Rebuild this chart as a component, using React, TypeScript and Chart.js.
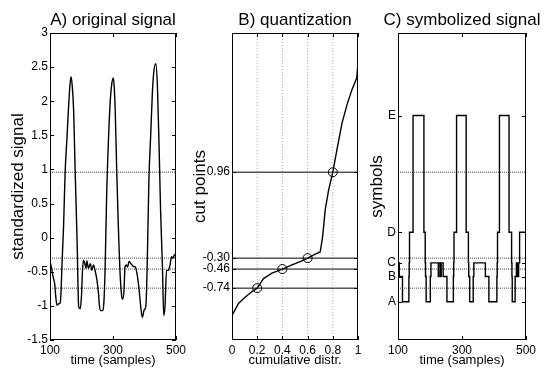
import React, { useEffect, useRef } from 'react';
import { Chart, registerables } from 'chart.js';

Chart.register(...registerables);

// ---------- data ----------
const SIGNAL_T = [100,105,110,115,118,122,127,132,135,138,143,148,154,159,164,167,171,175,180,186,191,196,200,203,206,210,214,217,222,228,233,238,243,249,254,257,261,266,271,275,280,286,291,296,301,304,307,312,317,323,328,331,335,338,342,346,351,357,364,371,377,383,388,393,399,404,407,410,414,420,425,430,436,441,446,451,457,461,465,470,476,481,486,491,495,500];
const SIGNAL_V = [-0.35,-0.45,-0.58,-0.68,-0.85,-0.99,-0.97,-0.96,-0.80,-0.40,0.16,0.95,1.48,1.92,2.27,2.36,2.20,1.87,0.95,-0.04,-1.01,-1.04,-0.85,-0.50,-0.33,-0.37,-0.45,-0.34,-0.45,-0.38,-0.48,-0.40,-0.48,-0.62,-0.82,-1.00,-1.07,-1.07,-0.95,-0.45,0.65,1.48,1.98,2.25,2.34,2.20,1.87,0.95,0.16,-0.57,-0.87,-0.90,-0.77,-0.43,-0.40,-0.43,-0.35,-0.38,-0.42,-0.43,-0.55,-0.77,-1.01,-1.17,-1.06,-1.01,-0.70,-0.08,0.85,1.54,2.12,2.45,2.55,2.22,1.39,0.41,-0.43,-1.14,-1.01,-0.48,-0.48,-0.40,-0.28,-0.30,-0.25,-0.28];

const CUT_POINTS = [-0.74, -0.46, -0.30, 0.96];
const CUT_PROBS = [0.2, 0.4, 0.6, 0.8];

const CDF_P = [0, 0.053, 0.106, 0.159, 0.2, 0.25, 0.317, 0.4, 0.476, 0.556, 0.6, 0.661, 0.70, 0.719, 0.74, 0.767, 0.8, 0.833, 0.873, 0.913, 0.952, 0.99, 1.0];
const CDF_V = [-1.14, -0.96, -0.87, -0.79, -0.74, -0.60, -0.52, -0.46, -0.40, -0.34, -0.30, -0.24, -0.21, 0.01, 0.41, 0.70, 0.96, 1.29, 1.68, 1.95, 2.17, 2.34, 2.56];

const SYMBOLS = ['A', 'B', 'C', 'D', 'E'];
const SYMBOL_LEVELS = [-0.94, -0.57, -0.37, 0.08, 1.79];

const STEP_T = [100,104,114,134,135,136,147,181,185,186,188,201,203,226,228,233,235,241,253,273,274,275,283,313,320,321,324,335,337,373,384,409,410,411,417,447,455,456,457,466,470,472,474,476,477,480,500];
const STEP_SYM = ['C','B','A','B','C','D','E','D','C','B','A','B','C','B','C','B','C','B','A','B','C','D','E','D','C','B','A','B','C','B','A','B','C','D','E','D','C','B','A','B','C','B','C','B','C','D','D'];

const Y_MIN = -1.5;
const Y_MAX = 3;
const Y_TICKS_A = [-1.5, -1, -0.5, 0, 0.5, 1, 1.5, 2, 2.5, 3];
const X_TICKS_TIME = [100, 300, 500];
const X_TICKS_CDF = [0, 0.2, 0.4, 0.6, 0.8, 1];

const TITLES = ['A) original signal', 'B) quantization', 'C) symbolized signal'];
const X_TITLES = ['time (samples)', 'cumulative distr.', 'time (samples)'];
const Y_TITLES = ['standardized signal', 'cut points', 'symbols'];

// ---------- layout ----------
const W = 545;
const H = 371;
const AREA_TOP = 33;
const AREA_BOTTOM = 340;
const X_AXIS_H = 20;
const AREAS = [
  { left: 50, right: 176, yAxisW: 46 },
  { left: 232, right: 358, yAxisW: 40 },
  { left: 398, right: 526, yAxisW: 20 },
];
const Y_TITLE_X = [23, 205, 382];
const TITLE_Y = 25;
const X_TITLE_Y = 364;
const FONT = '"Liberation Sans", Arial, Helvetica, sans-serif';

Chart.defaults.font.family = FONT;
Chart.defaults.color = '#000';

const decor = {
  id: 'decor',
  afterDatasetsDraw(chart: any) {
    const { ctx, chartArea: a } = chart;
    ctx.save();
    ctx.strokeStyle = '#000';
    ctx.lineWidth = 1;
    ctx.strokeRect(a.left + 0.5, a.top + 0.5, a.right - a.left - 1, a.bottom - a.top - 1);
    const tl = 4;
    ctx.beginPath();
    const xs = chart.scales.x;
    for (const t of xs.ticks) {
      const px = Math.round(xs.getPixelForValue(t.value)) + 0.5;
      ctx.moveTo(px, a.bottom);
      ctx.lineTo(px, a.bottom - tl);
      ctx.moveTo(px, a.top);
      ctx.lineTo(px, a.top + tl);
    }
    const ys = chart.scales.y;
    for (const t of ys.ticks) {
      const py = Math.round(ys.getPixelForValue(t.value)) + 0.5;
      ctx.moveTo(a.left, py);
      ctx.lineTo(a.left + tl, py);
      ctx.moveTo(a.right, py);
      ctx.lineTo(a.right - tl, py);
    }
    ctx.stroke();
    ctx.restore();
  },
  afterDraw(chart: any, _args: any, opts: any) {
    const { ctx, chartArea: a } = chart;
    const cx = (a.left + a.right) / 2;
    ctx.save();
    ctx.fillStyle = '#000';
    ctx.textAlign = 'center';
    ctx.textBaseline = 'alphabetic';
    ctx.font = `17px ${FONT}`;
    ctx.fillText(opts.title, cx, TITLE_Y);
    ctx.font = `13px ${FONT}`;
    ctx.fillText(opts.xTitle, cx, X_TITLE_Y);
    ctx.translate(opts.yTitleX, (a.top + a.bottom) / 2);
    ctx.rotate(-Math.PI / 2);
    ctx.font = `17px ${FONT}`;
    ctx.fillText(opts.yTitle, 0, 0);
    ctx.restore();
  },
};

function xScale(min: number, max: number, ticks: number[], fmt: (v: number) => string) {
  return {
    type: 'linear',
    min,
    max,
    afterBuildTicks: (s: any) => { s.ticks = ticks.map((v) => ({ value: v })); },
    afterFit: (s: any) => { s.height = X_AXIS_H; s.paddingLeft = 0; s.paddingRight = 0; },
    grid: { display: false, drawTicks: false, tickLength: 0 },
    border: { display: false },
    ticks: { autoSkip: false, maxRotation: 0, minRotation: 0, padding: 3, font: { size: 12 }, color: '#000', callback: (v: any) => fmt(Number(v)) },
  };
}

function yScale(width: number, ticks: number[], fmt: (v: number, i: number) => string) {
  return {
    type: 'linear',
    min: Y_MIN,
    max: Y_MAX,
    afterBuildTicks: (s: any) => { s.ticks = ticks.map((v) => ({ value: v })); },
    afterFit: (s: any) => { s.width = width; s.paddingTop = 0; s.paddingBottom = 0; },
    grid: { display: false, drawTicks: false, tickLength: 0 },
    border: { display: false },
    ticks: { autoSkip: false, padding: 2, font: { size: 12 }, color: '#000', callback: (v: any, i: number) => fmt(Number(v), i) },
  };
}

function baseOptions(idx: number, x: any, y: any) {
  const ar = AREAS[idx];
  return {
    responsive: false,
    animation: false,
    devicePixelRatio: 1,
    layout: { padding: { left: ar.left - ar.yAxisW, right: W - ar.right, top: AREA_TOP, bottom: H - AREA_BOTTOM - X_AXIS_H } },
    plugins: {
      legend: { display: false },
      title: { display: false },
      tooltip: { enabled: false },
      decor: { title: TITLES[idx], xTitle: X_TITLES[idx], yTitle: Y_TITLES[idx], yTitleX: Y_TITLE_X[idx] },
    },
    scales: { x, y },
  };
}

function hLines(x0: number, x1: number, color: string, dash: number[]) {
  return CUT_POINTS.map((c) => ({
    data: [{ x: x0, y: c }, { x: x1, y: c }],
    borderColor: color,
    borderWidth: 1,
    borderDash: dash,
    pointRadius: 0,
  }));
}

function configA(): any {
  const t0 = SIGNAL_T[0];
  const t1 = SIGNAL_T[SIGNAL_T.length - 1];
  return {
    type: 'line',
    data: {
      datasets: [
        {
          data: SIGNAL_T.map((t, i) => ({ x: t, y: SIGNAL_V[i] })),
          borderColor: '#000',
          borderWidth: 1.4,
          pointRadius: 0,
          cubicInterpolationMode: 'monotone',
        },
        ...hLines(t0, t1, '#444', [1, 1]),
      ],
    },
    options: baseOptions(0, xScale(t0, t1, X_TICKS_TIME, (v) => String(v)), yScale(AREAS[0].yAxisW, Y_TICKS_A, (v) => String(v))),
    plugins: [decor],
  };
}

function configB(): any {
  return {
    type: 'line',
    data: {
      datasets: [
        {
          data: CDF_P.map((p, i) => ({ x: p, y: CDF_V[i] })),
          borderColor: '#000',
          borderWidth: 1.4,
          pointRadius: 0,
          tension: 0,
        },
        {
          data: CUT_PROBS.map((p, i) => ({ x: p, y: CUT_POINTS[i] })),
          showLine: false,
          pointRadius: 4.5,
          pointBorderColor: '#000',
          pointBackgroundColor: 'rgba(0,0,0,0)',
          pointBorderWidth: 1,
        },
        ...hLines(0, 1, '#000', []),
        ...CUT_PROBS.map((p) => ({
          data: [{ x: p, y: Y_MIN }, { x: p, y: Y_MAX }],
          borderColor: '#aaa',
          borderWidth: 1,
          borderDash: [1, 2],
          pointRadius: 0,
        })),
      ],
    },
    options: baseOptions(1, xScale(0, 1, X_TICKS_CDF, (v) => String(v)), yScale(AREAS[1].yAxisW, CUT_POINTS, (v) => v.toFixed(2))),
    plugins: [decor],
  };
}

function configC(): any {
  const t0 = STEP_T[0];
  const t1 = STEP_T[STEP_T.length - 1];
  return {
    type: 'line',
    data: {
      datasets: [
        {
          data: STEP_T.map((t, i) => ({ x: t, y: SYMBOL_LEVELS[SYMBOLS.indexOf(STEP_SYM[i])] })),
          borderColor: '#000',
          borderWidth: 1.4,
          pointRadius: 0,
          stepped: true,
        },
        ...hLines(t0, t1, '#444', [1, 1]),
      ],
    },
    options: baseOptions(2, xScale(t0, t1, X_TICKS_TIME, (v) => String(v)), yScale(AREAS[2].yAxisW, SYMBOL_LEVELS, (_v, i) => SYMBOLS[i])),
    plugins: [decor],
  };
}

export default function App() {
  const refA = useRef<HTMLCanvasElement>(null);
  const refB = useRef<HTMLCanvasElement>(null);
  const refC = useRef<HTMLCanvasElement>(null);

  useEffect(() => {
    const charts = [
      new Chart(refA.current as HTMLCanvasElement, configA()),
      new Chart(refB.current as HTMLCanvasElement, configB()),
      new Chart(refC.current as HTMLCanvasElement, configC()),
    ];
    return () => charts.forEach((c) => c.destroy());
  }, []);

  const cs: React.CSSProperties = { position: 'absolute', left: 0, top: 0, width: W, height: H };
  return (
    <div style={{ position: 'absolute', left: 0, top: 0, width: W, height: H, background: '#fff' }}>
      <canvas ref={refA} width={W} height={H} style={cs} />
      <canvas ref={refB} width={W} height={H} style={cs} />
      <canvas ref={refC} width={W} height={H} style={cs} />
    </div>
  );
}
